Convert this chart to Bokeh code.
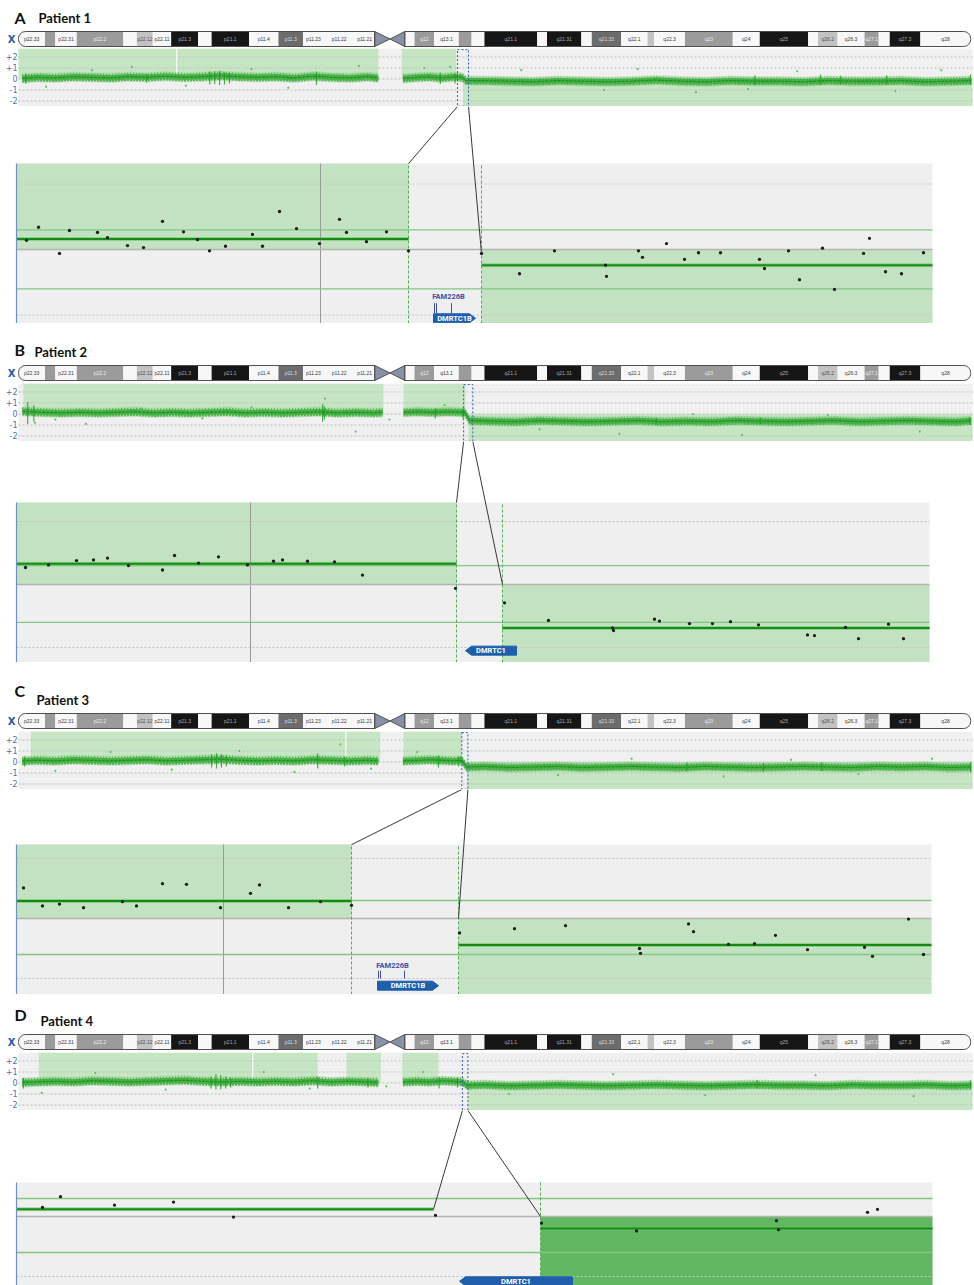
import math
from bokeh.plotting import figure
from bokeh.layouts import column
from bokeh.models import Range1d
from bokeh.core.properties import value
from bokeh.embed import file_html
from bokeh.resources import INLINE

NAN = float("nan")

# ---------------- chromosome X ideogram (Mb) ----------------
band_name = ["p22.33", "p22.32", "p22.31", "p22.2", "p22.13", "p22.12", "p22.11", "p21.3", "p21.2", "p21.1",
             "p11.4", "p11.3", "p11.23", "p11.22", "p11.21", "p11.1", "q11.1", "q11.2", "q12", "q13.1",
             "q13.2", "q13.3", "q21.1", "q21.2", "q21.31", "q21.32", "q21.33", "q22.1", "q22.2", "q22.3",
             "q23", "q24", "q25", "q26.1", "q26.2", "q26.3", "q27.1", "q27.2", "q27.3", "q28"]
band_start = [0.0, 4.3, 6.0, 9.5, 17.1, 19.3, 21.9, 24.9, 29.3, 31.5,
              37.6, 42.4, 46.4, 49.8, 54.8, 58.1, 60.6, 63.0, 64.6, 67.8,
              71.8, 73.9, 76.0, 84.6, 86.2, 91.8, 93.5, 98.3, 102.6, 103.7,
              108.7, 116.5, 120.9, 128.8, 130.4, 133.6, 138.0, 140.3, 142.1, 147.1]
band_end = [4.3, 6.0, 9.5, 17.1, 19.3, 21.9, 24.9, 29.3, 31.5, 37.6,
            42.4, 46.4, 49.8, 54.8, 58.1, 60.6, 63.0, 64.6, 67.8, 71.8,
            73.9, 76.0, 84.6, 86.2, 91.8, 93.5, 98.3, 102.6, 103.7, 108.7,
            116.5, 120.9, 128.8, 130.4, 133.6, 138.0, 140.3, 142.1, 147.1, 155.3]
band_stain = ["w", "m", "w", "m", "w", "l", "w", "k", "w", "k",
              "w", "d", "w", "w", "w", "acen", "acen", "w", "m", "w",
              "m", "w", "k", "w", "k", "w", "d", "w", "l", "w",
              "m", "w", "k", "w", "l", "w", "m", "w", "k", "w"]
CHR_LEN = 155.6

# overview axis
ov_ticks = [2, 1, 0, -1, -2]
ov_tick_labels = ["+2", "+1", "0", "-1", "-2"]
# zoom reference lines (log2 ratio)
zoom_grid = [1.0, -1.0]
zoom_thresholds = [0.3, -0.6]

# ================= Patient 1 =================
A_ov_pos = [0.6, 3.0, 6.0, 9.0, 12.0, 15.0, 18.0, 21.0, 24.0, 27.0, 30.0, 33.0, 36.0, 39.0, 42.0, 45.0, 48.0, 51.0, 54.0, 57.0, 58.7,
            NAN, 62.7, 65.0, 67.0, 69.0, 71.0, 72.4,
            73.0, 76.0, 80.0, 84.0, 88.0, 92.0, 96.0, 100.0, 104.0, 108.0, 112.0, 116.0, 120.0, 124.0, 128.0, 132.0, 136.0, 140.0, 144.0, 148.0, 152.0, 155.4]
A_ov_val = [0.05, 0.15, 0.10, 0.20, 0.15, 0.10, 0.20, 0.15, 0.25, 0.15, 0.20, 0.30, 0.20, 0.15, 0.20, 0.10, 0.25, 0.15, 0.10, 0.20, 0.10,
            NAN, 0.05, 0.15, 0.20, 0.10, 0.20, 0.15,
            -0.15, -0.15, -0.20, -0.25, -0.15, -0.20, -0.25, -0.20, -0.10, -0.20, -0.25, -0.15, -0.20, -0.20, -0.25, -0.15, -0.20, -0.20, -0.15, -0.25, -0.20, -0.15]
A_spk_pos = [1.2, 20.9, 31.2, 32.0, 32.8, 33.6, 34.4, 48.6, 68.8, 71.2, 120.1, 130.8, 134.1, 141.6, 155.3]
A_spk_lo = [-0.4, -0.35, -0.5, -0.45, -0.55, -0.5, -0.4, -0.55, -0.45, -0.4, -0.55, -0.5, -0.45, -0.5, -0.55]
A_spk_hi = [0.5, 0.45, 0.65, 0.7, 0.7, 0.6, 0.55, 0.65, 0.6, 0.5, 0.35, 0.4, 0.3, 0.35, 0.4]
A_out_pos = [4.5, 12.0, 18.5, 27.3, 38.0, 44.0, 55.5, 66.2, 70.4, 82.0, 95.5, 101.0, 110.5, 119.0, 127.0, 143.0, 150.5]
A_out_val = [-0.7, 0.8, 1.1, -0.6, 0.9, -0.8, 1.2, 1.0, 1.1, 0.8, -1.0, 0.9, -1.2, -0.9, 0.7, -1.1, 0.8]
A_call_start = [0.0, 25.8, 62.5, 72.5]
A_call_end = [25.8, 58.7, 71.4, 155.6]
A_call_dir = [1, 1, 1, -1]
A_box = [71.6, 73.4]
A_z_pos = [10, 22, 43, 53, 81, 91, 111, 127, 146, 167, 181, 193, 209, 236, 246, 263, 280, 303, 323, 330, 350, 370, 392,
           465, 503, 538, 589, 590, 622, 626, 650, 668, 682, 704, 743, 748, 772, 783, 806, 818, 847, 853, 869, 885, 907]
A_z_val = [0.14, 0.34, -0.06, 0.29, 0.26, 0.18, 0.06, 0.03, 0.43, 0.27, 0.15, -0.02, 0.05, 0.23, 0.05, 0.58, 0.32, 0.09, 0.46, 0.26, 0.12, 0.27, -0.02,
           -0.06, -0.37, -0.02, -0.24, -0.41, -0.02, -0.12, 0.09, -0.15, -0.05, -0.05, -0.15, -0.29, -0.02, -0.46, 0.02, -0.61, -0.06, 0.17, -0.34, -0.37, -0.05]
A_seg_start = [0, 465]
A_seg_end = [392, 916]
A_seg_val = [0.16, -0.24]
A_zcall_start = [0, 465]
A_zcall_end = [392, 916]
A_zcall_dir = [1, -1]
A_zdiv = [304]
A_zbound = [392, 465]
A_conn_x = [392, 465]
A_conn_y = [1.31, -0.06]
A_gene = ["DMRTC1B"]
A_gene_start = [417]
A_gene_end = [459]
A_gene_strand = [1]
A_gene_y = [-1.05]
A_tx_label = ["FAM226B"]
A_tx_label_x = [432]
A_tx_label_y = [-0.72]
A_tx_exon = [418, 420, 435]
A_tx_exon_y = [-0.82, -0.97]

# ================= Patient 2 =================
B_ov_pos = [0.6, 2.0, 4.0, 7.0, 10.0, 13.0, 16.0, 19.0, 22.0, 25.0, 28.0, 31.0, 34.0, 37.0, 40.0, 43.0, 46.0, 49.0, 52.0, 55.0, 58.0, 59.4,
            NAN, 62.8, 65.0, 67.5, 70.0, 72.8,
            73.6, 77.0, 81.0, 85.0, 89.0, 93.0, 97.0, 101.0, 105.0, 109.0, 113.0, 117.0, 121.0, 125.0, 129.0, 133.0, 137.0, 141.0, 145.0, 149.0, 153.0, 155.4]
B_ov_val = [0.25, 0.20, 0.15, 0.10, 0.15, 0.10, 0.15, 0.20, 0.10, 0.15, 0.10, 0.15, 0.20, 0.10, 0.15, 0.10, 0.15, 0.20, 0.10, 0.15, 0.10, 0.15,
            NAN, 0.15, 0.20, 0.15, 0.20, 0.15,
            -0.60, -0.65, -0.70, -0.60, -0.65, -0.70, -0.65, -0.60, -0.70, -0.65, -0.70, -0.60, -0.65, -0.70, -0.65, -0.60, -0.70, -0.65, -0.60, -0.65, -0.70, -0.60]
B_spk_pos = [1.5, 2.5, 49.6, 49.9, 68.0, 72.5, 104.0, 121.0, 155.2]
B_spk_lo = [-0.9, -0.7, -0.7, -0.5, -0.4, -0.4, -1.0, -0.95, -1.0]
B_spk_hi = [1.1, 0.8, 0.9, 0.7, 0.5, 0.5, -0.35, -0.3, -0.3]
B_out_pos = [2.7, 6.0, 11.0, 20.0, 30.0, 38.0, 50.0, 55.0, 60.5, 69.5, 85.0, 98.0, 110.0, 118.0, 132.0, 147.0]
B_out_val = [-0.8, -0.5, -0.9, 0.5, -0.4, 0.6, 1.4, -1.6, -0.5, 0.8, -1.4, -1.8, 0.0, -1.9, -0.1, -1.6]
B_call_start = [0.8, 62.8, 73.4]
B_call_end = [59.5, 72.9, 155.6]
B_call_dir = [1, 1, -1]
B_box = [72.6, 74.1]
B_z_pos = [9, 32, 60, 77, 91, 112, 146, 158, 182, 202, 231, 257, 266, 291, 318, 346, 439,
           488, 532, 596, 597, 638, 643, 673, 696, 714, 742, 791, 798, 829, 842, 872, 887]
B_z_val = [0.27, 0.31, 0.38, 0.39, 0.42, 0.30, 0.23, 0.46, 0.34, 0.44, 0.31, 0.37, 0.39, 0.37, 0.36, 0.15, -0.06,
           -0.29, -0.57, -0.69, -0.73, -0.55, -0.58, -0.62, -0.62, -0.59, -0.64, -0.80, -0.81, -0.68, -0.86, -0.63, -0.86]
B_seg_start = [0, 486]
B_seg_end = [440, 913]
B_seg_val = [0.33, -0.69]
B_zcall_start = [0, 486]
B_zcall_end = [440, 913]
B_zcall_dir = [1, -1]
B_zdiv = [234]
B_zbound = [440, 486]
B_conn_x = [440, 486]
B_conn_y = [1.30, 0.0]
B_gene = ["DMRTC1"]
B_gene_start = [449]
B_gene_end = [500]
B_gene_strand = [-1]
B_gene_y = [-1.05]
B_tx_label = []
B_tx_label_x = []
B_tx_label_y = []
B_tx_exon = []
B_tx_exon_y = [0, 0]

# ================= Patient 3 =================
C_ov_pos = [0.6, 3.0, 6.0, 9.0, 12.0, 15.0, 18.0, 21.0, 24.0, 27.0, 30.0, 33.0, 36.0, 39.0, 42.0, 45.0, 48.0, 51.0, 54.0, 57.0, 58.7,
            NAN, 62.7, 65.0, 67.0, 69.0, 71.0, 72.3,
            73.1, 76.0, 80.0, 84.0, 88.0, 92.0, 96.0, 100.0, 104.0, 108.0, 112.0, 116.0, 120.0, 124.0, 128.0, 132.0, 136.0, 140.0, 144.0, 148.0, 152.0, 155.4]
C_ov_val = [0.10, 0.15, 0.10, 0.20, 0.15, 0.10, 0.15, 0.20, 0.10, 0.15, 0.20, 0.25, 0.15, 0.10, 0.15, 0.10, 0.20, 0.15, 0.10, 0.15, 0.10,
            NAN, 0.10, 0.15, 0.20, 0.15, 0.10, 0.15,
            -0.45, -0.40, -0.50, -0.45, -0.40, -0.50, -0.45, -0.40, -0.45, -0.50, -0.40, -0.45, -0.50, -0.45, -0.40, -0.45, -0.50, -0.40, -0.45, -0.40, -0.50, -0.45]
C_spk_pos = [1.0, 31.5, 32.3, 33.1, 33.9, 48.8, 53.2, 68.5, 71.8, 109.0, 121.5, 131.0, 155.3]
C_spk_lo = [-0.4, -0.5, -0.6, -0.5, -0.4, -0.6, -0.4, -0.5, -0.4, -0.85, -0.9, -0.85, -0.95]
C_spk_hi = [0.5, 0.7, 0.8, 0.7, 0.6, 0.8, 0.5, 0.6, 0.5, -0.05, -0.1, -0.05, 0.0]
C_out_pos = [6.0, 15.0, 25.0, 36.0, 45.0, 52.5, 57.5, 65.0, 88.0, 100.0, 115.0, 126.0, 137.0, 149.0]
C_out_val = [-0.8, 0.9, -0.7, 1.0, -0.9, 1.6, -0.6, 0.9, -1.2, 0.3, -1.3, 0.2, -1.1, 0.3]
C_call_start = [2.0, 53.4, 62.8, 73.2]
C_call_end = [53.4, 59.0, 72.3, 155.6]
C_call_dir = [1, 1, 1, -1]
C_box = [72.3, 73.3]
C_z_pos = [7, 26, 43, 67, 106, 120, 146, 170, 204, 234, 243, 272, 304, 335,
           443, 498, 549, 623, 624, 672, 677, 712, 738, 759, 791, 848, 856, 892, 907]
C_z_val = [0.51, 0.21, 0.24, 0.18, 0.28, 0.21, 0.58, 0.57, 0.18, 0.42, 0.56, 0.18, 0.28, 0.22,
           -0.24, -0.17, -0.12, -0.50, -0.58, -0.09, -0.22, -0.43, -0.42, -0.28, -0.52, -0.48, -0.63, -0.01, -0.60]
C_seg_start = [0, 442]
C_seg_end = [335, 915]
C_seg_val = [0.29, -0.44]
C_zcall_start = [0, 442]
C_zcall_end = [335, 915]
C_zcall_dir = [1, -1]
C_zdiv = [207]
C_zbound = [335, 442]
C_conn_x = [335, 442]
C_conn_y = [1.23, 0.0]
C_gene = ["DMRTC1B"]
C_gene_start = [361]
C_gene_end = [422]
C_gene_strand = [1]
C_gene_y = [-1.12]
C_tx_label = ["FAM226B"]
C_tx_label_x = [376]
C_tx_label_y = [-0.78]
C_tx_exon = [362, 364, 388]
C_tx_exon_y = [-0.87, -1.0]

# ================= Patient 4 =================
D_ov_pos = [0.6, 3.0, 6.0, 9.0, 12.0, 15.0, 18.0, 21.0, 24.0, 27.0, 30.0, 33.0, 36.0, 39.0, 42.0, 45.0, 48.0, 51.0, 54.0, 57.0, 58.7,
            NAN, 62.7, 65.0, 67.0, 69.0, 71.0, 72.4,
            73.2, 76.0, 80.0, 84.0, 88.0, 92.0, 96.0, 100.0, 104.0, 108.0, 112.0, 116.0, 120.0, 124.0, 128.0, 132.0, 136.0, 140.0, 144.0, 148.0, 152.0, 155.4]
D_ov_val = [0.05, 0.10, 0.15, 0.10, 0.20, 0.15, 0.10, 0.15, 0.20, 0.25, 0.15, 0.10, 0.15, 0.10, 0.15, 0.10, 0.20, 0.10, 0.15, 0.10, 0.05,
            NAN, 0.10, 0.15, 0.10, 0.20, 0.15, 0.10,
            -0.20, -0.15, -0.25, -0.20, -0.15, -0.20, -0.25, -0.20, -0.15, -0.20, -0.25, -0.20, -0.15, -0.20, -0.20, -0.25, -0.15, -0.20, -0.20, -0.15, -0.25, -0.20]
D_spk_pos = [0.8, 31.4, 32.2, 33.0, 33.8, 34.6, 48.8, 57.0, 68.6, 71.6, 120.5, 155.3]
D_spk_lo = [-0.5, -0.5, -0.6, -0.6, -0.5, -0.4, -0.5, -0.4, -0.5, -0.4, -0.5, -0.6]
D_spk_hi = [0.45, 0.6, 0.8, 0.7, 0.6, 0.5, 0.6, 0.45, 0.5, 0.5, 0.25, 0.25]
D_out_pos = [3.8, 12.5, 24.0, 40.0, 47.5, 60.0, 66.0, 80.0, 97.0, 112.0, 130.0, 146.0]
D_out_val = [-0.9, 0.9, -0.6, 1.0, -0.5, -0.3, 1.0, -1.0, 0.8, -1.1, 0.7, -1.2]
D_call_start = [3.3, 38.2, 53.5, 62.6, 73.3]
D_call_end = [38.2, 48.8, 59.1, 68.5, 155.6]
D_call_dir = [1, 1, 1, 1, -1]
D_box = [72.4, 73.3]
D_z_pos = [26, 44, 98, 157, 217, 419, 525, 620, 760, 762, 851, 861]
D_z_val = [0.15, 0.33, 0.19, 0.24, -0.01, 0.02, -0.11, -0.24, -0.07, -0.22, 0.07, 0.12]
D_seg_start = [0, 524]
D_seg_end = [417, 916]
D_seg_val = [0.12, -0.20]
D_zcall_start = [524]
D_zcall_end = [916]
D_zcall_dir = [-1]
D_zdiv = []
D_zbound = [524]
D_conn_x = [417, 524]
D_conn_y = [0.12, 0.0]
D_gene = ["DMRTC1"]
D_gene_start = [443]
D_gene_end = [556]
D_gene_strand = [-1]
D_gene_y = [-1.08]
D_tx_label = []
D_tx_label_x = []
D_tx_label_y = []
D_tx_exon = []
D_tx_exon_y = [0, 0]

# ---------------- layout constants (page has no margin: Bokeh template) ----------------
W = 974
OV_L = 18
OV_R = 972
MBPP = CHR_LEN / (OV_R - OV_L)
X0 = -OV_L * MBPP
X1 = CHR_LEN + (W - OV_R) * MBPP
OV_TOP, OV_BOT = 2.77, -2.5
Z_L = 16

TITLE_FONT = value("Lato")
SMALL_FONT = value("Liberation Sans")
GENE_FONT = value("Roboto")


def px_to_mb(px):
    return X0 + px * MBPP


def mb_to_px(mb):
    return (mb - X0) / MBPP


def base_fig(h, xr, yr):
    return figure(width=W, height=h, x_range=xr, y_range=yr, output_backend="svg",
                  toolbar_location=None, tools="", x_axis_type=None, y_axis_type=None,
                  min_border=0, outline_line_color=None,
                  background_fill_color="white", border_fill_color="white")


def runs(pos, val):
    out, cx, cy = [], [], []
    for x, y in zip(pos, val):
        if math.isnan(x) or math.isnan(y):
            if cx:
                out.append((cx, cy))
            cx, cy = [], []
        else:
            cx.append(x)
            cy.append(y)
    if cx:
        out.append((cx, cy))
    return out


STAIN_FILL = {"w": "#f7f7f7", "l": "#c2c2c2", "m": "#9b9b9b", "d": "#6c6c6c", "k": "#161616"}
STAIN_TEXT = {"w": "#3a3a3a", "l": "#505050", "m": "#eeeeee", "d": "#dddddd", "k": "#a9a9a9"}


def ideogram_figure(P):
    H = P["ideo_h"]
    t = P["ideo_top"]
    b = t + 15
    m = (t + b) / 2.0
    p = base_fig(H, Range1d(X0, X1), Range1d(H, 0))
    p.text(x=[px_to_mb(14)], y=[P["letter_y"]], text=[P["letter"]], text_font=TITLE_FONT,
           text_font_style="bold", text_font_size="16px", text_baseline="middle", text_color="#111111")
    p.text(x=[px_to_mb(P["name_x"])], y=[P["name_y"]], text=[P["name"]], text_font=TITLE_FONT,
           text_font_style="bold", text_font_size="13px", text_baseline="middle", text_color="#111111")
    p.text(x=[px_to_mb(11)], y=[m + 0.5], text=["X"], text_font=value("DejaVu Sans"), text_align="center",
           text_font_style="bold", text_font_size="10px", text_baseline="middle", text_color="#2b5aa8")
    idx = [i for i, s in enumerate(band_stain) if s != "acen"]
    first, last = idx[0], idx[-1]
    mid_idx = [i for i in idx if i not in (first, last)]
    p.quad(left=[band_start[i] for i in mid_idx], right=[band_end[i] for i in mid_idx],
           top=[t] * len(mid_idx), bottom=[b] * len(mid_idx),
           fill_color=[STAIN_FILL[band_stain[i]] for i in mid_idx], line_color=None)
    p.quad(left=[band_start[first]], right=[band_end[first]], top=[t], bottom=[b],
           fill_color=STAIN_FILL[band_stain[first]], line_color=None, border_radius=(7, 0, 0, 7))
    p.quad(left=[band_start[last]], right=[band_end[last]], top=[t], bottom=[b],
           fill_color=STAIN_FILL[band_stain[last]], line_color=None, border_radius=(0, 7, 7, 0))
    acen = [i for i, s in enumerate(band_stain) if s == "acen"]
    p_end = band_start[acen[0]]
    q_start = band_end[acen[-1]]
    cen = band_end[acen[0]]
    p.patches(xs=[[p_end, cen, p_end], [q_start, cen, q_start]], ys=[[t, m, b], [t, m, b]],
              fill_color="#8792a6", line_color="#505050", line_width=1)
    p.quad(left=[band_start[first]], right=[p_end], top=[t], bottom=[b], fill_color=None,
           line_color="#505050", line_width=1, border_radius=(7, 0, 0, 7))
    p.quad(left=[q_start], right=[band_end[last]], top=[t], bottom=[b], fill_color=None,
           line_color="#505050", line_width=1, border_radius=(0, 7, 7, 0))
    lab = [i for i in idx if band_end[i] - band_start[i] >= 2.3]
    p.text(x=[(band_start[i] + band_end[i]) / 2 for i in lab], y=[m] * len(lab),
           text=[band_name[i] for i in lab], text_font=SMALL_FONT, text_font_size="5px",
           text_align="center", text_baseline="middle",
           text_color=[STAIN_TEXT[band_stain[i]] for i in lab])
    return p


def overview_figure(P):
    p = base_fig(58, Range1d(X0, X1), Range1d(OV_BOT, OV_TOP))
    p.quad(left=[0], right=[CHR_LEN], bottom=[OV_BOT], top=[OV_TOP], fill_color="#f0f0f0", line_color=None)
    cs, ce, cd = P["call_start"], P["call_end"], P["call_dir"]
    p.quad(left=cs, right=ce, top=[OV_TOP if d > 0 else 0 for d in cd],
           bottom=[0 if d > 0 else OV_BOT for d in cd], fill_color="#c5e5c3", line_color=None)
    dv = [(s, d) for s, d in zip(cs, cd) if any(abs(s - e) < 1e-9 for e in ce)]
    if dv:
        p.segment(x0=[s for s, d in dv], x1=[s for s, d in dv],
                  y0=[0 if d > 0 else OV_BOT for s, d in dv], y1=[OV_TOP if d > 0 else 0 for s, d in dv],
                  line_color="white", line_width=1.2)
    n = len(ov_ticks)
    p.segment(x0=[0] * n, x1=[CHR_LEN] * n, y0=ov_ticks, y1=ov_ticks, line_color="#bdbdbd",
              line_dash="2 2", line_width=1)
    p.text(x=[px_to_mb(17)] * n, y=ov_ticks, text=ov_tick_labels, text_font=value("DejaVu Sans"),
           text_font_size="8px", text_align="right", text_baseline="middle", text_color="#4f6fa8")
    for xs, ys in runs(P["ov_pos"], P["ov_val"]):
        p.varea(x=xs, y1=[v - 0.45 for v in ys], y2=[v + 0.45 for v in ys], fill_color="#8fd08c", fill_alpha=0.5)
        p.varea(x=xs, y1=[v - 0.25 for v in ys], y2=[v + 0.25 for v in ys], fill_color="#36a936", fill_alpha=0.85)
        # speckled edges, imitating the dense probe scatter
        p.line(x=xs, y=[v + 0.3 for v in ys], line_color="#3aa83a", line_width=1.6, line_dash="1 2", line_alpha=0.8)
        p.line(x=xs, y=[v - 0.3 for v in ys], line_color="#3aa83a", line_width=1.6, line_dash="2 1", line_alpha=0.8)
        p.line(x=xs, y=ys, line_color="#1b8f1b", line_width=1.2, line_dash="3 1")
    p.segment(x0=P["spk_pos"], x1=P["spk_pos"], y0=P["spk_lo"], y1=P["spk_hi"], line_color="#1f9a1f",
              line_width=1.2, line_alpha=0.8)
    p.scatter(x=P["out_pos"], y=P["out_val"], size=2.2, color="#62be62", line_color=None)
    p.quad(left=[P["box"][0]], right=[P["box"][1]], top=[OV_TOP - 0.1], bottom=[OV_BOT + 0.02],
           fill_color=None, line_color="#2e62aa", line_dash="2 2", line_width=1)
    return p


def zoom_figure(P):
    h, z0, u, pt_px = P["z_h"], P["z_zero_px"], P["z_unit"], P["z_panel_px"]
    ytop = z0 / u
    ybot = -(h - z0) / u
    ptop = (z0 - pt_px) / u
    ze = P["z_end"]
    p = base_fig(h, Range1d(-Z_L, W - Z_L), Range1d(ybot, ytop))
    p.quad(left=[0], right=[ze], bottom=[ybot], top=[ptop], fill_color="#efefef", line_color=None)
    cd = P["zcall_dir"]
    p.quad(left=P["zcall_start"], right=P["zcall_end"], top=[ptop if d > 0 else 0 for d in cd],
           bottom=[0 if d > 0 else ybot for d in cd], fill_color=P["z_fill"], line_color=None)
    gl = [g for g in zoom_grid if ybot < g < ptop]
    if gl:
        p.segment(x0=[0] * len(gl), x1=[ze] * len(gl), y0=gl, y1=gl, line_color="#c4c4c4",
                  line_dash="2 2", line_width=1)
    if P["zdiv"]:
        nd = len(P["zdiv"])
        p.segment(x0=P["zdiv"], x1=P["zdiv"], y0=[ybot] * nd, y1=[ptop] * nd, line_color="#9a9a9a", line_width=1)
    nt = len(zoom_thresholds)
    p.segment(x0=[0] * nt, x1=[ze] * nt, y0=zoom_thresholds, y1=zoom_thresholds, line_color="#82c682", line_width=1.3)
    p.segment(x0=[0], x1=[ze], y0=[0], y1=[0], line_color="#b3b3b3", line_width=1.6)
    nb = len(P["zbound"])
    p.segment(x0=P["zbound"], x1=P["zbound"], y0=[ybot] * nb, y1=[ptop] * nb, line_color="#4fae4f",
              line_dash="3 2", line_width=1)
    p.segment(x0=P["seg_start"], x1=P["seg_end"], y0=P["seg_val"], y1=P["seg_val"], line_color="#6cc46c",
              line_width=4, line_alpha=0.6)
    p.segment(x0=P["seg_start"], x1=P["seg_end"], y0=P["seg_val"], y1=P["seg_val"], line_color="#158a15",
              line_width=2)
    p.segment(x0=[0], x1=[0], y0=[ybot], y1=[ptop], line_color="#6f8fc6", line_width=1.2)
    p.scatter(x=P["z_pos"], y=P["z_val"], size=3.3, color="#1c1c1c", line_color=None)
    # genes
    hh = 4.5 / u
    tip = 6
    xs, ys = [], []
    for s, e, st, gy in zip(P["gene_start"], P["gene_end"], P["gene_strand"], P["gene_y"]):
        if st > 0:
            xs.append([s, e - tip, e, e - tip, s])
        else:
            xs.append([e, s + tip, s, s + tip, e])
        ys.append([gy - hh, gy - hh, gy, gy + hh, gy + hh])
    p.patches(xs=xs, ys=ys, fill_color="#1e5eab", line_color="#1e5eab")
    p.text(x=[(s + e) / 2 for s, e in zip(P["gene_start"], P["gene_end"])],
           y=P["gene_y"], text=P["gene"], text_font=GENE_FONT, text_font_style="bold", text_font_size="7.5px",
           text_align="center", text_baseline="middle", text_color="white")
    if P["tx_label"]:
        p.text(x=P["tx_label_x"], y=P["tx_label_y"], text=P["tx_label"], text_font=GENE_FONT,
               text_font_style="bold", text_font_size="7.5px", text_align="center", text_baseline="middle",
               text_color="#3f4fa6")
        ne = len(P["tx_exon"])
        p.segment(x0=P["tx_exon"], x1=P["tx_exon"], y0=[P["tx_exon_y"][0]] * ne, y1=[P["tx_exon_y"][1]] * ne,
                  line_color="#3f4fa6", line_width=1)
    # connectors from the dashed box of the overview
    top_x = [mb_to_px(P["box"][0]) - Z_L, mb_to_px(P["box"][1]) - Z_L]
    p.segment(x0=top_x, x1=P["conn_x"], y0=[ytop, ytop], y1=P["conn_y"], line_color="#383838", line_width=1)
    return p


def patient(prefix, letter, name, **lay):
    g = globals()
    d = dict(letter=letter, name=name)
    for k in ["ov_pos", "ov_val", "spk_pos", "spk_lo", "spk_hi", "out_pos", "out_val", "call_start",
              "call_end", "call_dir", "box", "z_pos", "z_val", "seg_start", "seg_end", "seg_val",
              "zcall_start", "zcall_end", "zcall_dir", "zdiv", "zbound", "conn_x", "conn_y", "gene",
              "gene_start", "gene_end", "gene_strand", "gene_y", "tx_label", "tx_label_x", "tx_label_y",
              "tx_exon", "tx_exon_y"]:
        d[k] = g[prefix + "_" + k]
    d.update(lay)
    return d


PATIENTS = [
    patient("A", "A", "Patient 1", ideo_h=48, ideo_top=31, letter_y=17, name_y=17, name_x=38,
            z_h=217, z_zero_px=143, z_unit=65.5, z_panel_px=57, z_end=916, z_fill="#c3e2c1"),
    patient("B", "B", "Patient 2", ideo_h=60, ideo_top=42, letter_y=26, name_y=28, name_x=34,
            z_h=221, z_zero_px=143, z_unit=63.0, z_panel_px=61, z_end=913, z_fill="#c3e2c1"),
    patient("C", "C", "Patient 3", ideo_h=69, ideo_top=51, letter_y=28, name_y=37, name_x=36,
            z_h=205, z_zero_px=129, z_unit=60.0, z_panel_px=55, z_end=915, z_fill="#c3e2c1"),
    patient("D", "D", "Patient 4", ideo_h=58, ideo_top=40, letter_y=20, name_y=26, name_x=40,
            z_h=175, z_zero_px=106, z_unit=60.0, z_panel_px=72, z_end=916, z_fill="#62b862"),
]

figs = []
for P in PATIENTS:
    figs.append(ideogram_figure(P))
    figs.append(overview_figure(P))
    figs.append(zoom_figure(P))

layout = column(figs, spacing=0)
open("out.html", "w").write(file_html(layout, INLINE))
